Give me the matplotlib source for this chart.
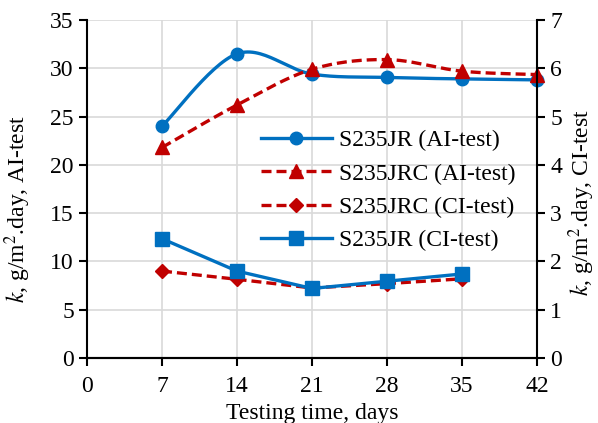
import numpy as np
import matplotlib
matplotlib.use("Agg")
import matplotlib.pyplot as plt

plt.rcParams['font.family'] = ['Liberation Serif', 'DejaVu Serif']
plt.rcParams['mathtext.fontset'] = 'stix'

days = [7, 14, 21, 28, 35, 42]
jr_ai = [24.0, 31.5, 29.4, 29.05, 28.9, 28.8]
jrc_ai = [21.8, 26.2, 29.9, 30.9, 29.7, 29.35]
days_ci = [7, 14, 21, 28, 35]
jrc_ci = [1.80, 1.63, 1.45, 1.54, 1.64]
jr_ci = [2.47, 1.80, 1.44, 1.59, 1.74]

blue = '#0070C0'
red = '#C00000'


def smooth(x, y, n=30):
    # catmull-rom like excel "smoothed line"
    x = np.asarray(x, float); y = np.asarray(y, float)
    px = np.concatenate([[x[0]], x, [x[-1]]])
    py = np.concatenate([[y[0]], y, [y[-1]]])
    xs, ys = [], []
    for i in range(1, len(px) - 2):
        p0, p1, p2, p3 = [np.array([px[j], py[j]]) for j in (i - 1, i, i + 1, i + 2)]
        c1 = p1 + (p2 - p0) / 6
        c2 = p2 - (p3 - p1) / 6
        t = np.linspace(0, 1, n)[:, None]
        b = (1 - t)**3 * p1 + 3 * (1 - t)**2 * t * c1 + 3 * (1 - t) * t**2 * c2 + t**3 * p2
        xs.extend(b[:, 0]); ys.extend(b[:, 1])
    return xs, ys


fig = plt.figure(figsize=(5.98, 4.23), dpi=100)
ax = fig.add_axes([0.1455, 0.1537, 0.7525, 0.799])
ax2 = ax.twinx()

fs = 17
lw = 2.4
ms = 9

sx, sy = smooth(days, jr_ai)
ax.plot(sx, sy, color=blue, lw=lw, clip_on=False)
ax.plot(days, jr_ai, 'o', color=blue, ms=ms, clip_on=False)
sx, sy = smooth(days, jrc_ai)
ax.plot(sx, sy, color=red, lw=lw, ls=(0, (3, 1.5)), clip_on=False)
ax.plot(days, jrc_ai, '^', color=red, ms=ms + 1, clip_on=False)

ax2.plot(days_ci, jrc_ci, color=red, lw=lw, ls=(0, (3, 1.5)), marker='D', ms=ms - 1.5)
ax2.plot(days_ci, jr_ci, color=blue, lw=lw, marker='s', ms=ms + 1)

# legend handles
h1, = ax.plot([], [], color=blue, lw=lw, marker='o', ms=ms)
h2, = ax.plot([], [], color=red, lw=lw, ls=(0, (3, 1.5)), marker='^', ms=ms + 1)
h3, = ax.plot([], [], color=red, lw=lw, ls=(0, (3, 1.5)), marker='D', ms=ms - 1.5)
h4, = ax.plot([], [], color=blue, lw=lw, marker='s', ms=ms + 1)
ax.legend([h1, h2, h3, h4],
          ['S235JR (AI-test)', 'S235JRC (AI-test)', 'S235JRC (CI-test)', 'S235JR (CI-test)'],
          frameon=False, fontsize=fs, loc='upper left', bbox_to_anchor=(0.36, 0.71),
          handlelength=3.0, handletextpad=0.3, labelspacing=0.5, borderpad=0)

ax.set_xlim(0, 42)
ax.set_ylim(0, 35)
ax2.set_ylim(0, 7)
ax.set_xticks(range(0, 43, 7))
ax.set_yticks(range(0, 36, 5))
ax2.set_yticks(range(0, 8))
ax.grid(True, color='#d9d9d9', lw=1.2)
ax.set_axisbelow(True)

for a in (ax, ax2):
    a.spines['top'].set_visible(False)
    a.tick_params(labelsize=fs, direction='out', length=6, width=1.5)
    for s in a.spines.values():
        s.set_linewidth(1.5)
ax2.spines['left'].set_visible(False)
ax.spines['right'].set_visible(False)
ax.tick_params(axis='x', pad=7)

ax.set_xlabel('Testing time, days', fontsize=fs, labelpad=4)
ax.set_ylabel('$k$, g/m$^2$.day, AI-test', fontsize=fs)
ax2.set_ylabel('$k$, g/m$^2$.day, CI-test', fontsize=fs)
ax.yaxis.set_label_coords(-0.12, 0.44)
ax2.yaxis.set_label_coords(1.066, 0.46)

fig.savefig('out.png', dpi=100)
